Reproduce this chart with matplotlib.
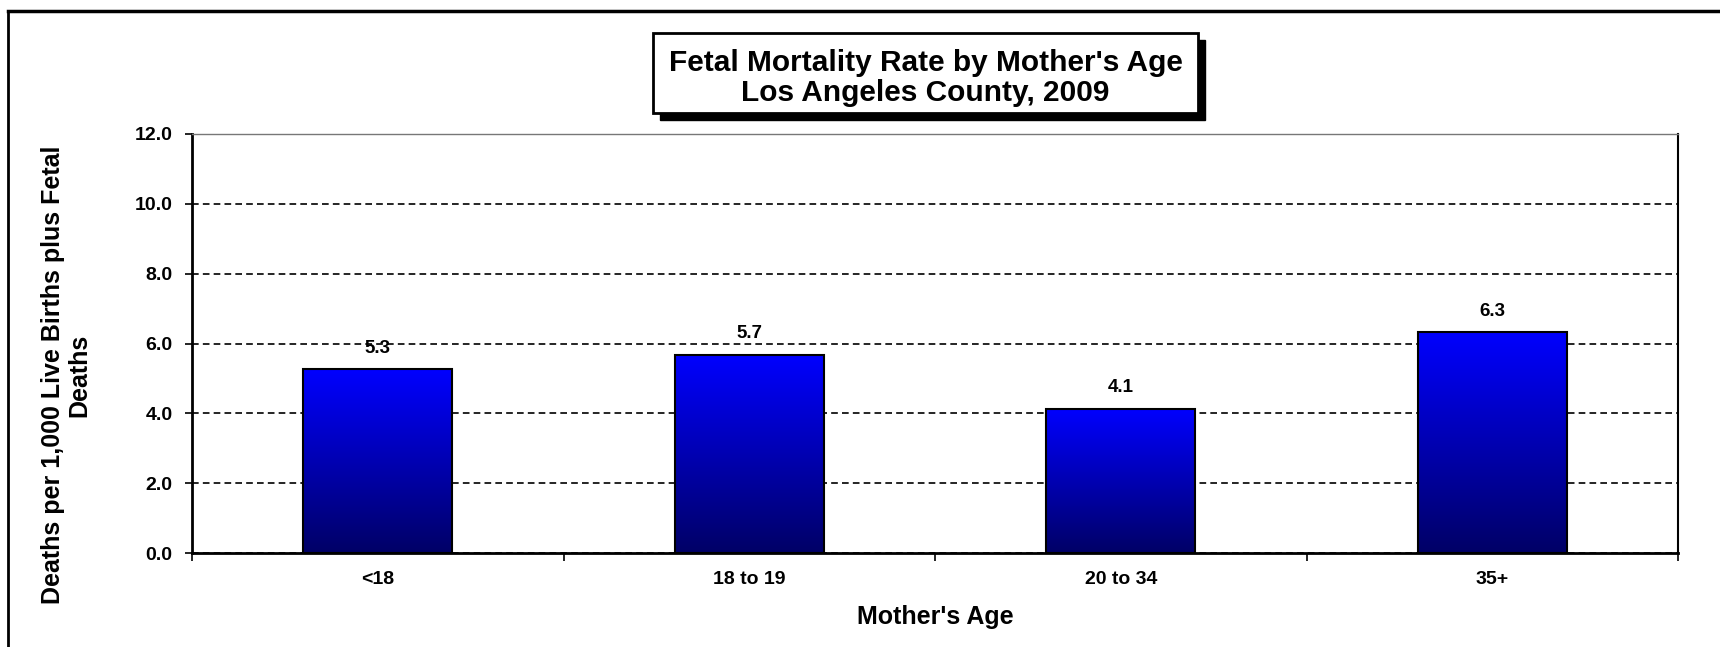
import numpy as np
import matplotlib.pyplot as plt
from matplotlib.patches import Rectangle
from matplotlib.lines import Line2D
from matplotlib.colors import LinearSegmentedColormap

categories = ["<18", "18 to 19", "20 to 34", "35+"]
rates = [5.26, 5.68, 4.13, 6.33]
yticks = [0, 2, 4, 6, 8, 10, 12]

plt.rcParams['font.family'] = ['Liberation Sans', 'DejaVu Sans']
plt.rcParams['font.weight'] = 'bold'

W, H = 1720, 647
fig = plt.figure(figsize=(W / 100, H / 100), dpi=100)

# axes in pixel coordinates
left, right, top, bottom = 192, 1678, 134, 553
ax = fig.add_axes([left / W, 1 - bottom / H, (right - left) / W, (bottom - top) / H])

x = np.arange(len(categories))
bars = ax.bar(x, rates, width=0.4, color='none', edgecolor='black', linewidth=1.5, zorder=3)

# vertical gradient inside each bar
cmap = LinearSegmentedColormap.from_list('blu', [(0, 0, 0.40), (0, 0, 1.0)])
grad = np.linspace(0, 1, 256).reshape(-1, 1)
for b in bars:
    x0, w, h = b.get_x(), b.get_width(), b.get_height()
    im = ax.imshow(grad, cmap=cmap, origin='lower', aspect='auto',
                   extent=(x0, x0 + w, 0, h), zorder=2)
    im.set_clip_path(b)

for xi, v in zip(x, rates):
    ax.annotate(f"{v:.1f}", (xi, v), xytext=(0, 15), textcoords='offset points',
                ha='center', va='center', fontsize=13.5, fontweight='bold')

ax.set_xlim(-0.5, len(categories) - 0.5)
ax.set_ylim(0, 12)
ax.set_yticks(yticks)
ax.set_yticklabels([f"{t:.1f}" for t in yticks], fontsize=14, fontweight='bold')
ax.set_xticks(x)
ax.set_xticklabels(categories, fontsize=14, fontweight='bold')
ax.tick_params(axis='x', length=0, pad=13)
ax.set_xticks(np.arange(-0.5, len(categories)), minor=True)
ax.tick_params(axis='x', which='minor', length=6, width=1.2, direction='out')
ax.tick_params(axis='y', length=5, width=1.2, direction='out', pad=9)

ax.yaxis.grid(True, linestyle=(0, (4, 2.5)), color='black', linewidth=1.2, zorder=1)
ax.set_axisbelow(True)

for s in ['left', 'bottom']:
    ax.spines[s].set_linewidth(2)
ax.spines['right'].set_linewidth(1.5)
ax.spines['top'].set_linewidth(1)
ax.spines['top'].set_color('#777777')

fig.text((left + right) / 2 / W, 1 - 617 / H, "Mother's Age", ha='center', va='center',
         fontsize=18, fontweight='bold')
fig.text(66 / W, 1 - 375 / H, "Deaths per 1,000 Live Births plus Fetal\nDeaths",
         rotation=90, ha='center', va='center', fontsize=18, fontweight='bold',
         multialignment='center', linespacing=1.15)

# title box with shadow (pixel coords -> figure fraction)
bx0, by0, bx1, by1 = 653, 33, 1198, 113
sh = 7
fig.patches.append(Rectangle(((bx0 + sh) / W, 1 - (by1 + sh) / H), (bx1 - bx0) / W, (by1 - by0) / H,
                             transform=fig.transFigure, facecolor='black', edgecolor='black', zorder=1))
fig.patches.append(Rectangle((bx0 / W, 1 - by1 / H), (bx1 - bx0) / W, (by1 - by0) / H,
                             transform=fig.transFigure, facecolor='white', edgecolor='black',
                             linewidth=2, zorder=2))
fig.text((bx0 + bx1) / 2 / W, 1 - 78 / H,
         "Fetal Mortality Rate by Mother's Age\nLos Angeles County, 2009",
         ha='center', va='center', fontsize=21.5, fontweight='bold', linespacing=1.1, zorder=3)

# outer frame lines (top and left)
fig.add_artist(Line2D([8 / W, 1], [1 - 11 / H, 1 - 11 / H], color='black', linewidth=2.5,
                      transform=fig.transFigure))
fig.add_artist(Line2D([8 / W, 8 / W], [0, 1 - 11 / H], color='black', linewidth=2,
                      transform=fig.transFigure))

fig.savefig('out.png', dpi=100)
